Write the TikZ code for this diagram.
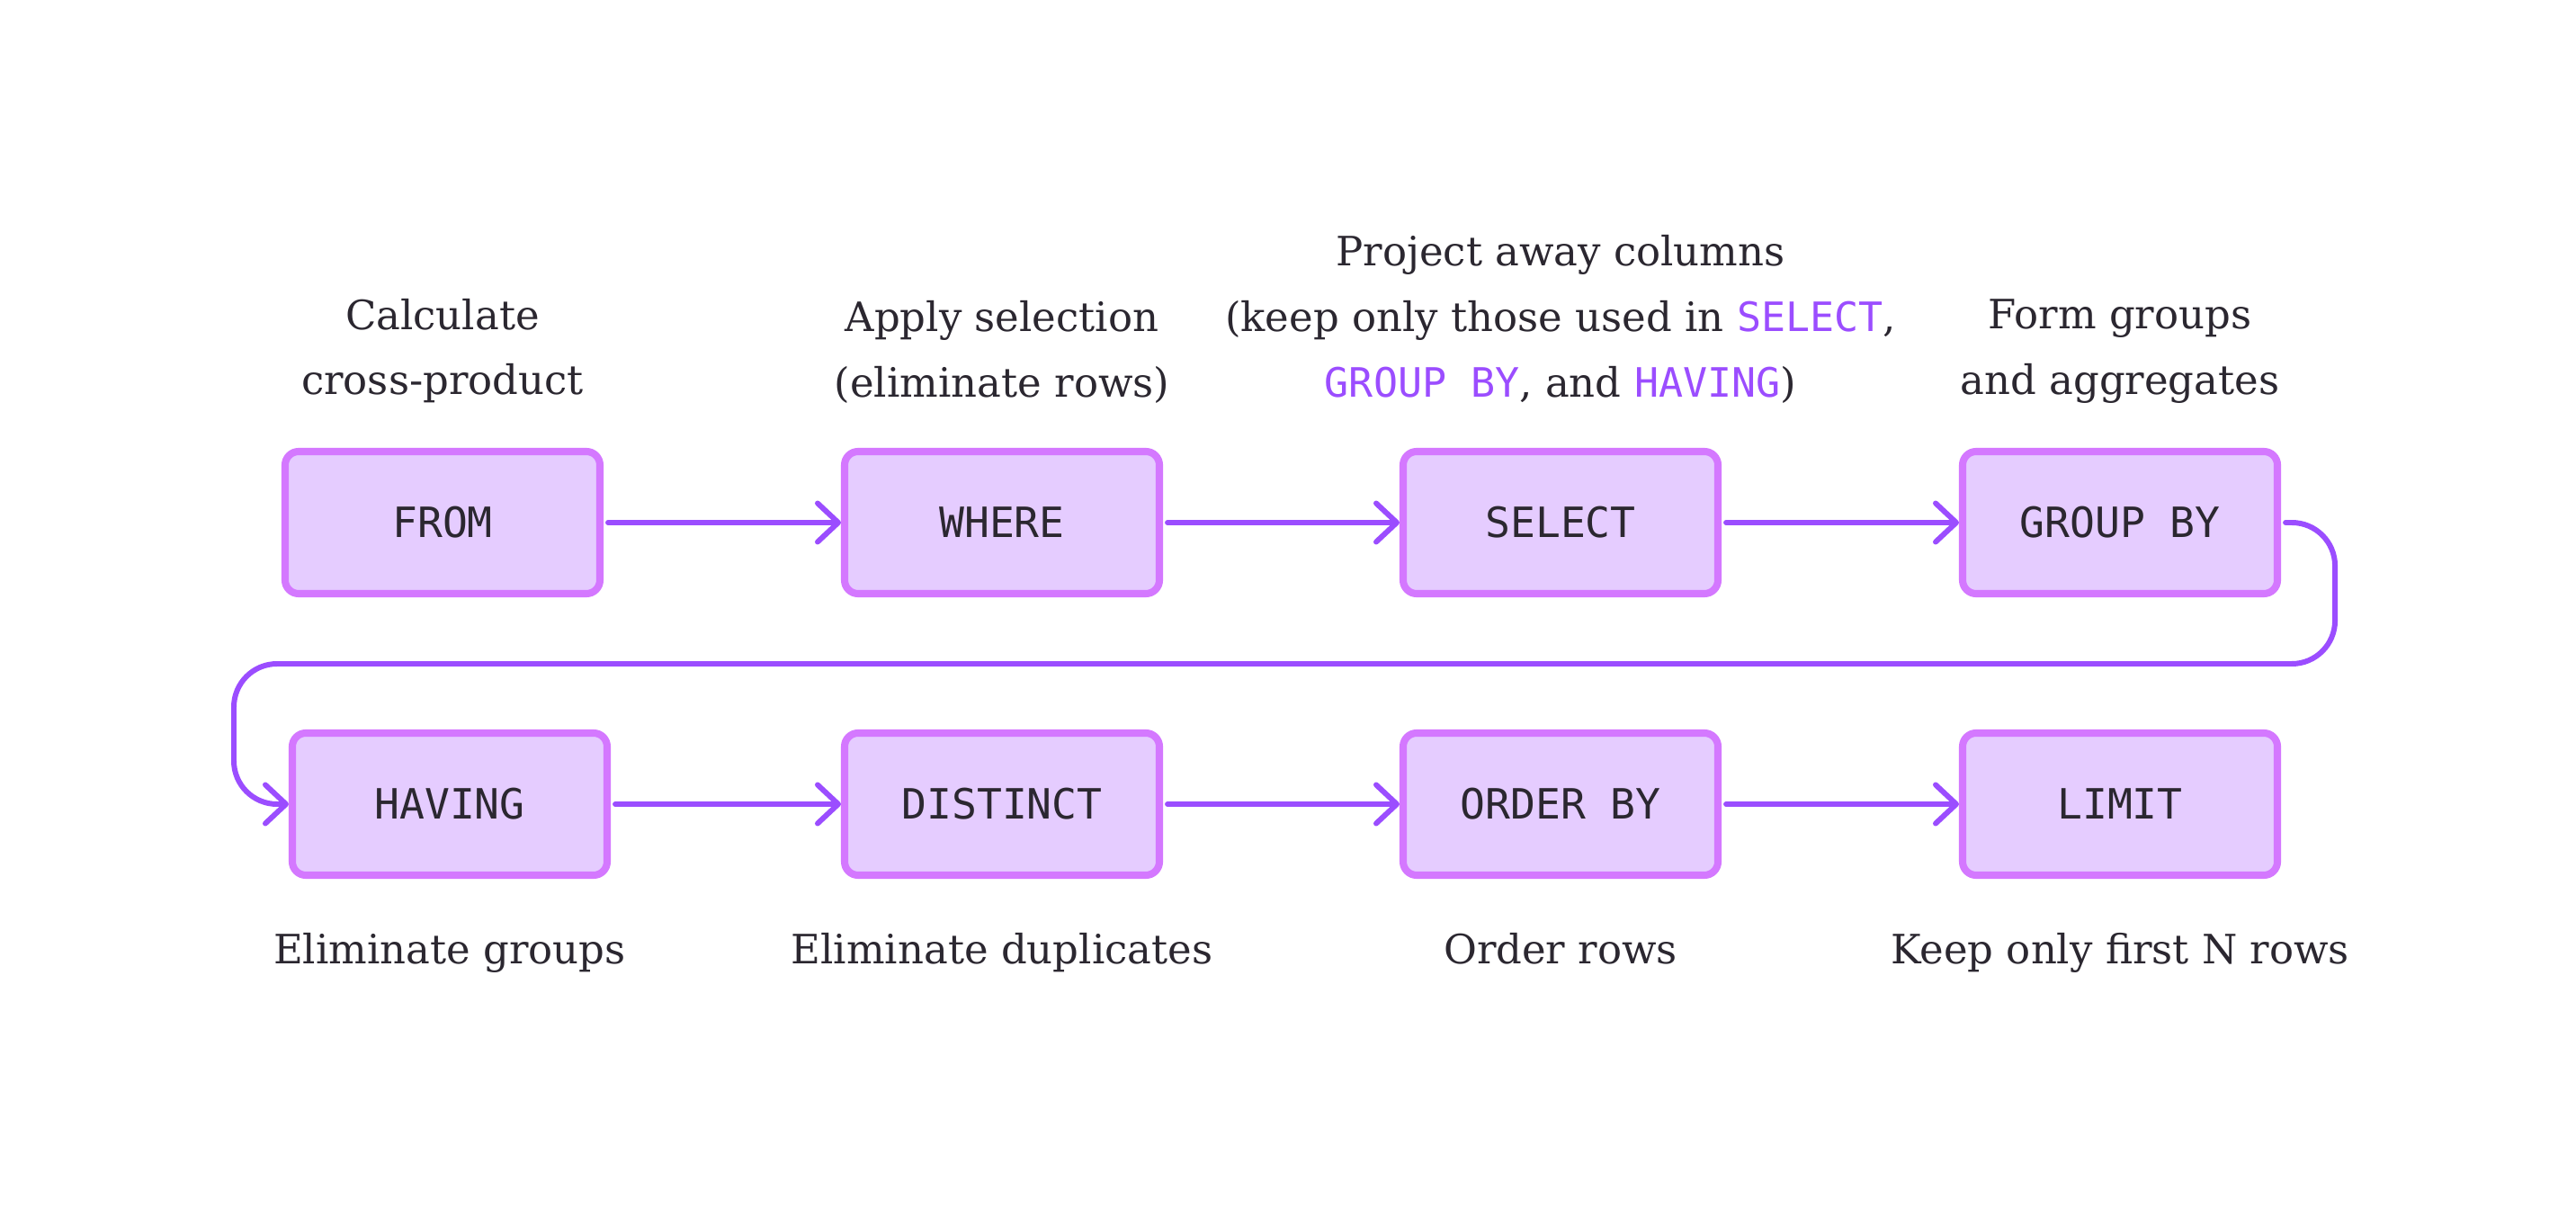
\documentclass[tikz,border=0pt]{standalone}
\usepackage{fontspec}
\setmainfont{DejaVu Serif}
\setmonofont{DejaVu Sans Mono}
\usetikzlibrary{positioning,arrows.meta}
\definecolor{boxfill}{HTML}{E5CCFF}
\definecolor{boxline}{HTML}{D478FF}
\definecolor{flowline}{HTML}{9B4DFF}
\definecolor{ink}{HTML}{2B2730}
\newcommand{\kw}[1]{\textcolor{flowline}{\texttt{#1}}}
\begin{document}
\begin{tikzpicture}[
  box/.style={draw=boxline, fill=boxfill, line width=2.3pt, rounded corners=0.15cm,
    minimum width=3.5cm, minimum height=1.58cm, text=ink,
    font=\ttfamily\fontsize{13.2}{15}\selectfont},
  note/.style={align=center, inner sep=0pt, text=ink,
    font=\fontsize{12.8}{20.7}\selectfont},
  flow/.style={draw=flowline, line width=1.7pt, line cap=round,
    -{Straight Barb[length=2.3mm,width=4.3mm,round]}}
]
\useasboundingbox (0,0) rectangle (28.64,13.42);

% Clauses in the order they are evaluated
\node [box] (from) at (4.92,7.61) {FROM};
\node [box] (where) at (11.14,7.61) {WHERE};
\node [box] (select) at (17.35,7.61) {SELECT};
\node [box] (groupby) at (23.57,7.61) {GROUP BY};
\node [box] (having) at (5.00,4.48) {HAVING};
\node [box] (distinct) at (11.14,4.48) {DISTINCT};
\node [box] (orderby) at (17.35,4.48) {ORDER BY};
\node [box] (limit) at (23.57,4.48) {LIMIT};

% What each clause does
\node [note, above=0.49cm of from] (fromtxt) {Calculate\\cross-product};
\node [note, above=0.49cm of where] (wheretxt) {Apply selection\\(eliminate rows)};
\node [note, above=0.49cm of select] (selecttxt) {Project away columns\\(keep only those used in \kw{SELECT},\\\kw{GROUP BY}, and \kw{HAVING})};
\node [note, above=0.49cm of groupby] (groupbytxt) {Form groups\\and aggregates};
\node [note, below=0.6cm of having] (havingtxt) {Eliminate groups};
\node [note, below=0.6cm of distinct] (distincttxt) {Eliminate duplicates};
\node [note, below=0.6cm of orderby] (orderbytxt) {Order rows};
\node [note, below=0.6cm of limit] (limittxt) {Keep only first N rows};

% Arrows between neighbours in a row
\draw [flow, shorten <=0.05cm] (from.east) -- (where.west);
\draw [flow, shorten <=0.05cm] (where.east) -- (select.west);
\draw [flow, shorten <=0.05cm] (select.east) -- (groupby.west);
\draw [flow, shorten <=0.05cm] (having.east) -- (distinct.west);
\draw [flow, shorten <=0.05cm] (distinct.east) -- (orderby.west);
\draw [flow, shorten <=0.05cm] (orderby.east) -- (limit.west);

% Wrap from the end of the first row to the start of the second
\coordinate (back) at (2.60,6.04);
\draw [flow, rounded corners=0.48cm, shorten <=0.05cm] (groupby.east) -- ++(0.6,0) |- (back) |- (having.west);

\end{tikzpicture}
\end{document}
